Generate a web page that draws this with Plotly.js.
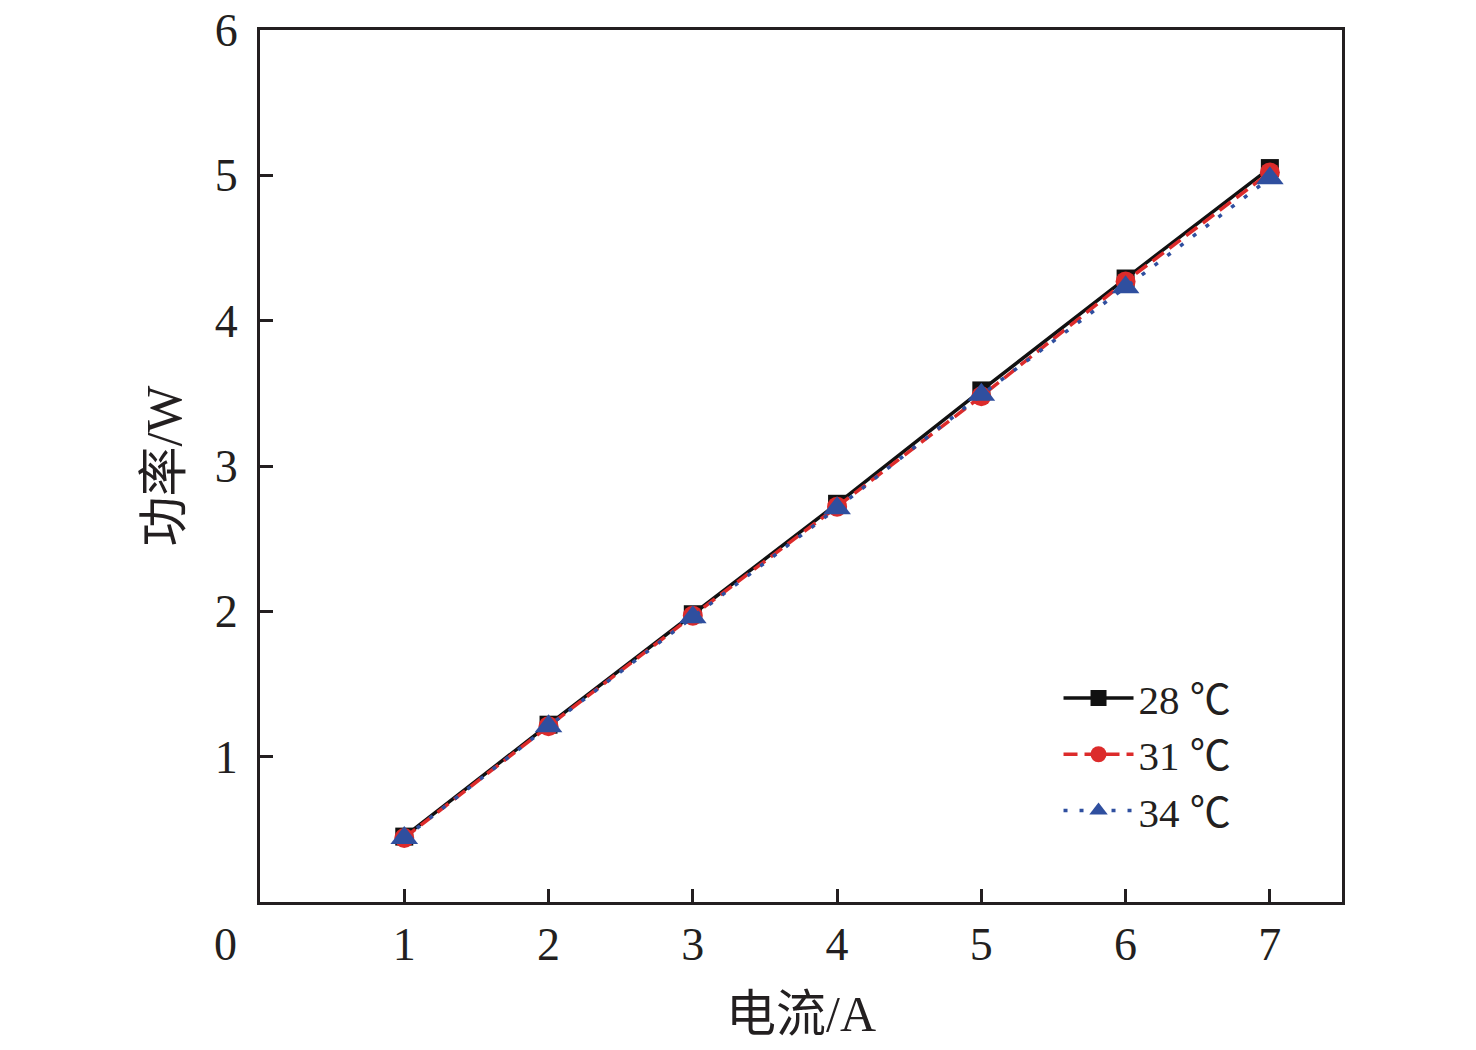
<!DOCTYPE html>
<html>
<head>
<meta charset="utf-8">
<script src="https://cdn.plot.ly/plotly-3.0.1.min.js"></script>
<style>html,body{margin:0;padding:0;background:#fff;}#chart{width:1476px;height:1050px;}</style>
</head>
<body>
<div id="chart"></div>
<script>
const current = [1, 2, 3, 4, 5, 6, 7];
const power28 = [0.45, 1.22, 1.98, 2.74, 3.52, 4.29, 5.05];
const power31 = [0.44, 1.21, 1.97, 2.72, 3.48, 4.27, 5.02];
const power34 = [0.44, 1.21, 1.96, 2.71, 3.49, 4.23, 4.98];
const seriesNames = ['28 ℃', '31 ℃', '34 ℃'];
const xTicks = [1, 2, 3, 4, 5, 6, 7];
const yTicks = [1, 2, 3, 4, 5, 6];

const FONT = '"Liberation Serif", "Times New Roman", "Noto Sans CJK SC", serif';
const INK = '#231f20';

const traces = [
  {x: current, y: power28, name: seriesNames[0], mode: 'lines+markers',
   line: {color: '#111111', width: 3.5, dash: 'solid'},
   marker: {symbol: 'square', size: 18, color: '#111111'}},
  {x: current, y: power31, name: seriesNames[1], mode: 'lines+markers',
   line: {color: '#dc2b2b', width: 3.5, dash: '14px,7px'},
   marker: {symbol: 'circle', size: 20, color: '#dc2b2b'}},
  {x: current, y: power34, name: seriesNames[2], mode: 'lines+markers',
   line: {color: '#2f4f9f', width: 3.5, dash: '4px,12px'},
   marker: {symbol: 'triangle-up', size: 24, color: '#2f4f9f'}}
];

const layout = {
  width: 1476, height: 1050,
  paper_bgcolor: '#ffffff', plot_bgcolor: '#ffffff',
  margin: {l: 260, r: 134, t: 30, b: 148, pad: 0},
  font: {family: FONT, color: INK, size: 46},
  showlegend: true,
  legend: {x: 0.738, y: 0.272, xanchor: 'left', yanchor: 'top',
    bgcolor: 'rgba(0,0,0,0)', borderwidth: 0,
    font: {family: FONT, size: 41, color: INK}, itemwidth: 70, tracegroupgap: 0},
  xaxis: {
    range: [0, 7.5], tickvals: xTicks, ticktext: xTicks.map(String),
    ticks: 'inside', ticklen: 13, tickwidth: 3, tickcolor: INK,
    showline: true, linewidth: 3, linecolor: INK, mirror: true,
    showgrid: false, zeroline: false, ticklabelstandoff: 0,
    tickfont: {family: FONT, size: 46, color: INK},
    title: {text: '电流/A', font: {family: FONT, size: 50, color: INK}, standoff: 27}
  },
  yaxis: {
    range: [0, 6], tickvals: yTicks, ticktext: yTicks.map(String),
    ticks: 'inside', ticklen: 13, tickwidth: 3, tickcolor: INK,
    showline: true, linewidth: 3, linecolor: INK, mirror: true,
    showgrid: false, zeroline: false, ticklabelstandoff: 10,
    tickfont: {family: FONT, size: 46, color: INK},
    title: {text: '功率/W', font: {family: FONT, size: 50, color: INK}, standoff: 18}
  },
  annotations: [
    {text: '0', xref: 'paper', yref: 'paper', x: -0.032, y: -0.049,
     xanchor: 'center', yanchor: 'middle', showarrow: false,
     font: {family: FONT, size: 46, color: INK}}
  ]
};

Plotly.newPlot('chart', traces, layout, {displayModeBar: false, staticPlot: true});
</script>
</body>
</html>
